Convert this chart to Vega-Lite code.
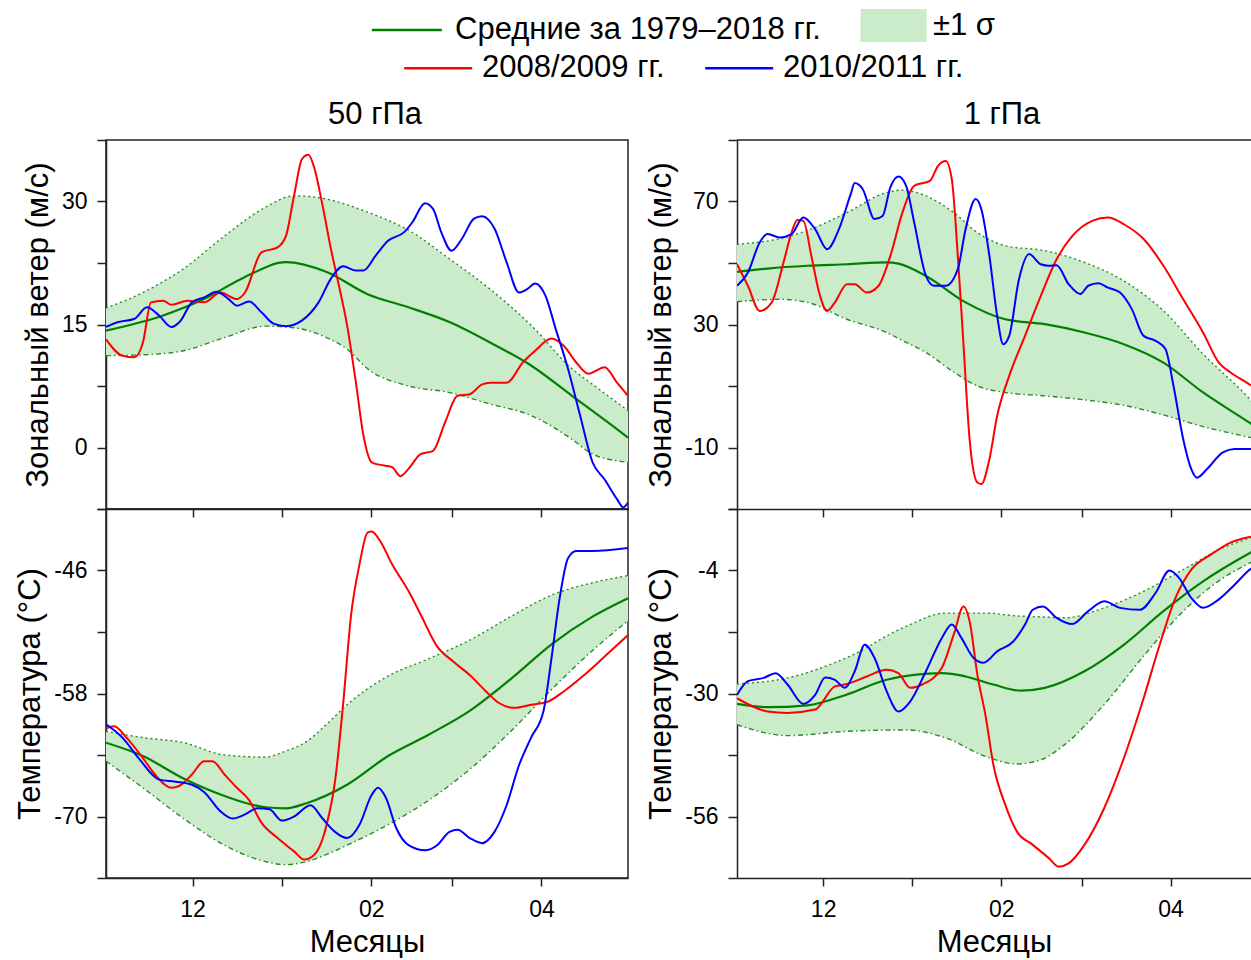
{
"$schema": "https://vega.github.io/schema/vega-lite/v6.json",
"padding": {"left": 14, "top": 10, "right": 0, "bottom": 0},
"config": {
  "font": "Liberation Sans",
  "view": {"stroke": null},
  "axis": {"domainColor": "#222", "domainWidth": 1.5, "tickColor": "#222", "tickWidth": 1.5, "tickSize": 9, "labelFontSize": 23, "labelColor": "#000", "labelFont": "Liberation Sans", "labelPadding": 10, "titleFontSize": 31, "titleFontWeight": "normal", "titleColor": "#000", "titleFont": "Liberation Sans", "titlePadding": 7, "grid": false, "labelOverlap": false, "labelBound": false, "labelFlush": false},
  "legend": {"labelFontSize": 31, "labelColor": "#000", "labelFont": "Liberation Sans", "padding": 0, "symbolOpacity": 1, "labelLimit": 700},
  "title": {"fontSize": 31, "fontWeight": "normal", "color": "#000", "font": "Liberation Sans", "anchor": "middle"}
},
"datasets": {
"band": [
{"p":"w50","b":"±1 σ","d":0,"lo":11.2,"hi":17.0},{"p":"w50","b":"±1 σ","d":12.8,"lo":11.3,"hi":18.9},{"p":"w50","b":"±1 σ","d":26.9,"lo":11.8,"hi":21.8},{"p":"w50","b":"±1 σ","d":41.1,"lo":13.4,"hi":25.8},{"p":"w50","b":"±1 σ","d":55.3,"lo":14.8,"hi":29.3},{"p":"w50","b":"±1 σ","d":65.2,"lo":14.6,"hi":30.7},{"p":"w50","b":"±1 σ","d":76.5,"lo":13.4,"hi":30.3},{"p":"w50","b":"±1 σ","d":83.6,"lo":12.0,"hi":29.6},{"p":"w50","b":"±1 σ","d":90.7,"lo":9.6,"hi":28.7},{"p":"w50","b":"±1 σ","d":104.9,"lo":7.5,"hi":26.5},{"p":"w50","b":"±1 σ","d":119.1,"lo":6.7,"hi":23.0},{"p":"w50","b":"±1 σ","d":133.2,"lo":5.3,"hi":19.3},{"p":"w50","b":"±1 σ","d":147.4,"lo":3.9,"hi":14.9},{"p":"w50","b":"±1 σ","d":161.6,"lo":1.0,"hi":9.6},{"p":"w50","b":"±1 σ","d":168.7,"lo":-0.8,"hi":7.7},{"p":"w50","b":"±1 σ","d":181,"lo":-1.8,"hi":4.5},
{"p":"t50","b":"±1 σ","d":0,"lo":-64.6,"hi":-61.7},{"p":"t50","b":"±1 σ","d":12.8,"lo":-67.2,"hi":-62.3},{"p":"t50","b":"±1 σ","d":26.9,"lo":-70.2,"hi":-62.8},{"p":"t50","b":"±1 σ","d":41.1,"lo":-72.8,"hi":-64.0},{"p":"t50","b":"±1 σ","d":55.3,"lo":-74.4,"hi":-64.2},{"p":"t50","b":"±1 σ","d":62.4,"lo":-74.7,"hi":-63.6},{"p":"t50","b":"±1 σ","d":69.5,"lo":-74.4,"hi":-62.7},{"p":"t50","b":"±1 σ","d":76.5,"lo":-73.7,"hi":-61.0},{"p":"t50","b":"±1 σ","d":83.6,"lo":-72.8,"hi":-59.1},{"p":"t50","b":"±1 σ","d":97.8,"lo":-70.8,"hi":-56.3},{"p":"t50","b":"±1 σ","d":112.0,"lo":-68.4,"hi":-54.6},{"p":"t50","b":"±1 σ","d":126.1,"lo":-65.4,"hi":-52.8},{"p":"t50","b":"±1 σ","d":140.3,"lo":-61.7,"hi":-50.5},{"p":"t50","b":"±1 σ","d":154.5,"lo":-57.6,"hi":-48.4},{"p":"t50","b":"±1 σ","d":168.7,"lo":-53.8,"hi":-47.2},{"p":"t50","b":"±1 σ","d":181,"lo":-50.9,"hi":-46.5},
{"p":"w1","b":"±1 σ","d":0,"lo":37.4,"hi":56.1},{"p":"w1","b":"±1 σ","d":14.8,"lo":38.2,"hi":57.9},{"p":"w1","b":"±1 σ","d":24.5,"lo":37.2,"hi":60.6},{"p":"w1","b":"±1 σ","d":38.3,"lo":31.7,"hi":66.4},{"p":"w1","b":"±1 σ","d":52.1,"lo":27.4,"hi":72.9},{"p":"w1","b":"±1 σ","d":57.6,"lo":24.8,"hi":73.7},{"p":"w1","b":"±1 σ","d":65.8,"lo":20.9,"hi":71.8},{"p":"w1","b":"±1 σ","d":75.5,"lo":14.5,"hi":66.4},{"p":"w1","b":"±1 σ","d":83.7,"lo":10.0,"hi":59.9},{"p":"w1","b":"±1 σ","d":93.4,"lo":7.9,"hi":55.6},{"p":"w1","b":"±1 σ","d":107.2,"lo":6.8,"hi":54.0},{"p":"w1","b":"±1 σ","d":121.0,"lo":5.5,"hi":50.2},{"p":"w1","b":"±1 σ","d":134.7,"lo":3.7,"hi":44.2},{"p":"w1","b":"±1 σ","d":148.5,"lo":0.6,"hi":34.5},{"p":"w1","b":"±1 σ","d":162.3,"lo":-3.2,"hi":20.4},{"p":"w1","b":"±1 σ","d":178.6,"lo":-6.7,"hi":5.7},{"p":"w1","b":"±1 σ","d":181,"lo":-7.2,"hi":3.2},
{"p":"t1","b":"±1 σ","d":0,"lo":-36.6,"hi":-28.0},{"p":"t1","b":"±1 σ","d":17.6,"lo":-38.9,"hi":-26.7},{"p":"t1","b":"±1 σ","d":38.3,"lo":-38.0,"hi":-22.4},{"p":"t1","b":"±1 σ","d":58.9,"lo":-37.7,"hi":-15.8},{"p":"t1","b":"±1 σ","d":72.7,"lo":-39.4,"hi":-13.0},{"p":"t1","b":"±1 σ","d":86.5,"lo":-43.3,"hi":-13.0},{"p":"t1","b":"±1 σ","d":97.5,"lo":-44.9,"hi":-13.6},{"p":"t1","b":"±1 σ","d":105.8,"lo":-44.0,"hi":-13.8},{"p":"t1","b":"±1 σ","d":114.1,"lo":-40.8,"hi":-14.0},{"p":"t1","b":"±1 σ","d":127.9,"lo":-32.3,"hi":-11.9},{"p":"t1","b":"±1 σ","d":141.6,"lo":-22.1,"hi":-8.4},{"p":"t1","b":"±1 σ","d":155.4,"lo":-12.6,"hi":-3.8},{"p":"t1","b":"±1 σ","d":169.2,"lo":-5.6,"hi":0.8},{"p":"t1","b":"±1 σ","d":178.6,"lo":-2.4,"hi":2.9},{"p":"t1","b":"±1 σ","d":181,"lo":-1.6,"hi":3.5}
],
"mean": [
{"p":"w50","s":"Средние за 1979–2018 гг.","d":0,"v":14.25},{"p":"w50","s":"Средние за 1979–2018 гг.","d":19.8,"v":16.1},{"p":"w50","s":"Средние за 1979–2018 гг.","d":34.0,"v":18.1},{"p":"w50","s":"Средние за 1979–2018 гг.","d":48.2,"v":20.8},{"p":"w50","s":"Средние за 1979–2018 гг.","d":62.4,"v":22.6},{"p":"w50","s":"Средние за 1979–2018 гг.","d":76.5,"v":21.4},{"p":"w50","s":"Средние за 1979–2018 гг.","d":90.7,"v":18.7},{"p":"w50","s":"Средние за 1979–2018 гг.","d":104.9,"v":17.1},{"p":"w50","s":"Средние за 1979–2018 гг.","d":119.1,"v":15.3},{"p":"w50","s":"Средние за 1979–2018 гг.","d":133.2,"v":12.8},{"p":"w50","s":"Средние за 1979–2018 гг.","d":147.4,"v":10.0},{"p":"w50","s":"Средние за 1979–2018 гг.","d":161.6,"v":6.3},{"p":"w50","s":"Средние за 1979–2018 гг.","d":175.8,"v":2.6},{"p":"w50","s":"Средние за 1979–2018 гг.","d":181,"v":1.2},
{"p":"t50","s":"Средние за 1979–2018 гг.","d":0,"v":-62.8},{"p":"t50","s":"Средние за 1979–2018 гг.","d":12.8,"v":-64.1},{"p":"t50","s":"Средние за 1979–2018 гг.","d":26.9,"v":-66.3},{"p":"t50","s":"Средние за 1979–2018 гг.","d":41.1,"v":-68.0},{"p":"t50","s":"Средние за 1979–2018 гг.","d":55.3,"v":-69.1},{"p":"t50","s":"Средние за 1979–2018 гг.","d":62.4,"v":-69.2},{"p":"t50","s":"Средние за 1979–2018 гг.","d":69.5,"v":-68.7},{"p":"t50","s":"Средние за 1979–2018 гг.","d":83.6,"v":-66.9},{"p":"t50","s":"Средние за 1979–2018 гг.","d":97.8,"v":-64.1},{"p":"t50","s":"Средние за 1979–2018 гг.","d":112.0,"v":-62.0},{"p":"t50","s":"Средние за 1979–2018 гг.","d":126.1,"v":-59.7},{"p":"t50","s":"Средние за 1979–2018 гг.","d":140.3,"v":-56.6},{"p":"t50","s":"Средние за 1979–2018 гг.","d":154.5,"v":-53.2},{"p":"t50","s":"Средние за 1979–2018 гг.","d":168.7,"v":-50.5},{"p":"t50","s":"Средние за 1979–2018 гг.","d":181,"v":-48.7},
{"p":"w1","s":"Средние за 1979–2018 гг.","d":0,"v":47.1},{"p":"w1","s":"Средние за 1979–2018 гг.","d":10.7,"v":48.2},{"p":"w1","s":"Средние за 1979–2018 гг.","d":24.5,"v":49.1},{"p":"w1","s":"Средние за 1979–2018 гг.","d":38.3,"v":49.6},{"p":"w1","s":"Средние за 1979–2018 гг.","d":52.1,"v":50.2},{"p":"w1","s":"Средние за 1979–2018 гг.","d":56.2,"v":49.8},{"p":"w1","s":"Средние за 1979–2018 гг.","d":65.8,"v":45.8},{"p":"w1","s":"Средние за 1979–2018 гг.","d":79.6,"v":37.2},{"p":"w1","s":"Средние за 1979–2018 гг.","d":93.4,"v":31.7},{"p":"w1","s":"Средние за 1979–2018 гг.","d":107.2,"v":30.1},{"p":"w1","s":"Средние за 1979–2018 гг.","d":121.0,"v":27.4},{"p":"w1","s":"Средние за 1979–2018 гг.","d":134.7,"v":23.6},{"p":"w1","s":"Средние за 1979–2018 гг.","d":148.5,"v":17.6},{"p":"w1","s":"Средние за 1979–2018 гг.","d":162.3,"v":7.9},{"p":"w1","s":"Средние за 1979–2018 гг.","d":178.6,"v":-2.0},{"p":"w1","s":"Средние за 1979–2018 гг.","d":181,"v":-3.5},
{"p":"t1","s":"Средние за 1979–2018 гг.","d":0,"v":-32.2},{"p":"t1","s":"Средние за 1979–2018 гг.","d":10.7,"v":-32.9},{"p":"t1","s":"Средние за 1979–2018 гг.","d":24.5,"v":-32.5},{"p":"t1","s":"Средние за 1979–2018 гг.","d":38.3,"v":-30.2},{"p":"t1","s":"Средние за 1979–2018 гг.","d":52.1,"v":-27.1},{"p":"t1","s":"Средние за 1979–2018 гг.","d":71.3,"v":-25.7},{"p":"t1","s":"Средние за 1979–2018 гг.","d":79.6,"v":-26.4},{"p":"t1","s":"Средние за 1979–2018 гг.","d":89.3,"v":-28.1},{"p":"t1","s":"Средние за 1979–2018 гг.","d":98.9,"v":-29.4},{"p":"t1","s":"Средние за 1979–2018 гг.","d":107.2,"v":-28.8},{"p":"t1","s":"Средние за 1979–2018 гг.","d":121.0,"v":-25.3},{"p":"t1","s":"Средние за 1979–2018 гг.","d":134.7,"v":-19.7},{"p":"t1","s":"Средние за 1979–2018 гг.","d":148.5,"v":-12.6},{"p":"t1","s":"Средние за 1979–2018 гг.","d":162.3,"v":-6.3},{"p":"t1","s":"Средние за 1979–2018 гг.","d":178.6,"v":-0.3},{"p":"t1","s":"Средние за 1979–2018 гг.","d":181,"v":0.5}
],
"yr": [
{"p":"w50","s":"2008/2009 гг.","d":0,"v":13.2},{"p":"w50","s":"2008/2009 гг.","d":5.7,"v":11.2},{"p":"w50","s":"2008/2009 гг.","d":9.9,"v":11.0},{"p":"w50","s":"2008/2009 гг.","d":12.8,"v":12.8},{"p":"w50","s":"2008/2009 гг.","d":15.6,"v":17.7},{"p":"w50","s":"2008/2009 гг.","d":19.8,"v":17.9},{"p":"w50","s":"2008/2009 гг.","d":22.7,"v":17.4},{"p":"w50","s":"2008/2009 гг.","d":28.3,"v":17.9},{"p":"w50","s":"2008/2009 гг.","d":34.0,"v":17.7},{"p":"w50","s":"2008/2009 гг.","d":39.7,"v":18.9},{"p":"w50","s":"2008/2009 гг.","d":45.4,"v":18.1},{"p":"w50","s":"2008/2009 гг.","d":48.2,"v":18.9},{"p":"w50","s":"2008/2009 гг.","d":53.9,"v":23.8},{"p":"w50","s":"2008/2009 гг.","d":59.5,"v":24.4},{"p":"w50","s":"2008/2009 гг.","d":62.4,"v":25.8},{"p":"w50","s":"2008/2009 гг.","d":65.2,"v":30.7},{"p":"w50","s":"2008/2009 гг.","d":68.0,"v":35.2},{"p":"w50","s":"2008/2009 гг.","d":70.2,"v":35.7},{"p":"w50","s":"2008/2009 гг.","d":72.3,"v":34.0},{"p":"w50","s":"2008/2009 гг.","d":75.1,"v":29.5},{"p":"w50","s":"2008/2009 гг.","d":78.0,"v":24.2},{"p":"w50","s":"2008/2009 гг.","d":80.8,"v":19.7},{"p":"w50","s":"2008/2009 гг.","d":83.6,"v":14.9},{"p":"w50","s":"2008/2009 гг.","d":86.5,"v":8.3},{"p":"w50","s":"2008/2009 гг.","d":89.3,"v":1.4},{"p":"w50","s":"2008/2009 гг.","d":92.1,"v":-1.8},{"p":"w50","s":"2008/2009 гг.","d":96.4,"v":-2.2},{"p":"w50","s":"2008/2009 гг.","d":99.2,"v":-2.4},{"p":"w50","s":"2008/2009 гг.","d":102.1,"v":-3.5},{"p":"w50","s":"2008/2009 гг.","d":104.9,"v":-2.6},{"p":"w50","s":"2008/2009 гг.","d":109.1,"v":-0.8},{"p":"w50","s":"2008/2009 гг.","d":113.4,"v":-0.4},{"p":"w50","s":"2008/2009 гг.","d":117.6,"v":3.1},{"p":"w50","s":"2008/2009 гг.","d":121.9,"v":6.3},{"p":"w50","s":"2008/2009 гг.","d":126.1,"v":6.5},{"p":"w50","s":"2008/2009 гг.","d":130.4,"v":7.7},{"p":"w50","s":"2008/2009 гг.","d":133.2,"v":7.9},{"p":"w50","s":"2008/2009 гг.","d":138.9,"v":7.9},{"p":"w50","s":"2008/2009 гг.","d":144.6,"v":10.4},{"p":"w50","s":"2008/2009 гг.","d":148.8,"v":11.8},{"p":"w50","s":"2008/2009 гг.","d":154.5,"v":13.3},{"p":"w50","s":"2008/2009 гг.","d":158.7,"v":12.4},{"p":"w50","s":"2008/2009 гг.","d":163.0,"v":10.4},{"p":"w50","s":"2008/2009 гг.","d":167.3,"v":9.0},{"p":"w50","s":"2008/2009 гг.","d":172.9,"v":9.8},{"p":"w50","s":"2008/2009 гг.","d":177.2,"v":7.9},{"p":"w50","s":"2008/2009 гг.","d":181,"v":6.3},
{"p":"w50","s":"2010/2011 гг.","d":0,"v":14.7},{"p":"w50","s":"2010/2011 гг.","d":4.3,"v":15.3},{"p":"w50","s":"2010/2011 гг.","d":9.9,"v":15.7},{"p":"w50","s":"2010/2011 гг.","d":14.2,"v":17.1},{"p":"w50","s":"2010/2011 гг.","d":18.4,"v":16.1},{"p":"w50","s":"2010/2011 гг.","d":22.7,"v":14.7},{"p":"w50","s":"2010/2011 гг.","d":25.5,"v":15.3},{"p":"w50","s":"2010/2011 гг.","d":29.8,"v":17.7},{"p":"w50","s":"2010/2011 гг.","d":34.0,"v":18.3},{"p":"w50","s":"2010/2011 гг.","d":38.3,"v":19.0},{"p":"w50","s":"2010/2011 гг.","d":42.5,"v":18.1},{"p":"w50","s":"2010/2011 гг.","d":45.4,"v":17.3},{"p":"w50","s":"2010/2011 гг.","d":49.6,"v":17.8},{"p":"w50","s":"2010/2011 гг.","d":53.9,"v":16.5},{"p":"w50","s":"2010/2011 гг.","d":58.1,"v":15.1},{"p":"w50","s":"2010/2011 гг.","d":62.4,"v":14.8},{"p":"w50","s":"2010/2011 гг.","d":68.0,"v":15.5},{"p":"w50","s":"2010/2011 гг.","d":73.7,"v":17.7},{"p":"w50","s":"2010/2011 гг.","d":78.0,"v":20.6},{"p":"w50","s":"2010/2011 гг.","d":82.2,"v":22.1},{"p":"w50","s":"2010/2011 гг.","d":86.5,"v":21.6},{"p":"w50","s":"2010/2011 гг.","d":89.3,"v":21.6},{"p":"w50","s":"2010/2011 гг.","d":93.5,"v":23.4},{"p":"w50","s":"2010/2011 гг.","d":97.8,"v":25.2},{"p":"w50","s":"2010/2011 гг.","d":103.5,"v":26.3},{"p":"w50","s":"2010/2011 гг.","d":106.3,"v":27.5},{"p":"w50","s":"2010/2011 гг.","d":110.6,"v":29.8},{"p":"w50","s":"2010/2011 гг.","d":113.4,"v":29.1},{"p":"w50","s":"2010/2011 гг.","d":116.2,"v":26.3},{"p":"w50","s":"2010/2011 гг.","d":119.8,"v":24.0},{"p":"w50","s":"2010/2011 гг.","d":123.3,"v":25.4},{"p":"w50","s":"2010/2011 гг.","d":127.6,"v":27.9},{"p":"w50","s":"2010/2011 гг.","d":130.4,"v":28.2},{"p":"w50","s":"2010/2011 гг.","d":134.7,"v":26.7},{"p":"w50","s":"2010/2011 гг.","d":138.9,"v":22.6},{"p":"w50","s":"2010/2011 гг.","d":143.2,"v":18.9},{"p":"w50","s":"2010/2011 гг.","d":146.0,"v":19.3},{"p":"w50","s":"2010/2011 гг.","d":148.8,"v":20.0},{"p":"w50","s":"2010/2011 гг.","d":152.4,"v":18.5},{"p":"w50","s":"2010/2011 гг.","d":155.9,"v":14.5},{"p":"w50","s":"2010/2011 гг.","d":160.2,"v":9.6},{"p":"w50","s":"2010/2011 гг.","d":164.4,"v":3.9},{"p":"w50","s":"2010/2011 гг.","d":168.7,"v":-1.8},{"p":"w50","s":"2010/2011 гг.","d":172.9,"v":-3.9},{"p":"w50","s":"2010/2011 гг.","d":177.2,"v":-6.3},{"p":"w50","s":"2010/2011 гг.","d":179.3,"v":-7.3},{"p":"w50","s":"2010/2011 гг.","d":181,"v":-6.7},
{"p":"t50","s":"2008/2009 гг.","d":0,"v":-61.4},{"p":"t50","s":"2008/2009 гг.","d":2.8,"v":-61.2},{"p":"t50","s":"2008/2009 гг.","d":7.1,"v":-62.3},{"p":"t50","s":"2008/2009 гг.","d":12.8,"v":-64.3},{"p":"t50","s":"2008/2009 гг.","d":17.0,"v":-65.9},{"p":"t50","s":"2008/2009 гг.","d":22.7,"v":-67.2},{"p":"t50","s":"2008/2009 гг.","d":25.5,"v":-67.0},{"p":"t50","s":"2008/2009 гг.","d":29.8,"v":-65.9},{"p":"t50","s":"2008/2009 гг.","d":34.0,"v":-64.6},{"p":"t50","s":"2008/2009 гг.","d":36.9,"v":-64.6},{"p":"t50","s":"2008/2009 гг.","d":41.1,"v":-65.9},{"p":"t50","s":"2008/2009 гг.","d":45.4,"v":-67.2},{"p":"t50","s":"2008/2009 гг.","d":49.6,"v":-68.4},{"p":"t50","s":"2008/2009 гг.","d":53.9,"v":-70.6},{"p":"t50","s":"2008/2009 гг.","d":59.5,"v":-72.1},{"p":"t50","s":"2008/2009 гг.","d":65.2,"v":-73.4},{"p":"t50","s":"2008/2009 гг.","d":68.7,"v":-74.2},{"p":"t50","s":"2008/2009 гг.","d":72.3,"v":-73.7},{"p":"t50","s":"2008/2009 гг.","d":76.5,"v":-70.8},{"p":"t50","s":"2008/2009 гг.","d":79.4,"v":-66.6},{"p":"t50","s":"2008/2009 гг.","d":82.2,"v":-59.1},{"p":"t50","s":"2008/2009 гг.","d":85.0,"v":-50.3},{"p":"t50","s":"2008/2009 гг.","d":87.9,"v":-45.4},{"p":"t50","s":"2008/2009 гг.","d":90.7,"v":-42.3},{"p":"t50","s":"2008/2009 гг.","d":92.1,"v":-42.2},{"p":"t50","s":"2008/2009 гг.","d":95.0,"v":-43.1},{"p":"t50","s":"2008/2009 гг.","d":99.2,"v":-45.4},{"p":"t50","s":"2008/2009 гг.","d":104.9,"v":-48.0},{"p":"t50","s":"2008/2009 гг.","d":109.1,"v":-50.3},{"p":"t50","s":"2008/2009 гг.","d":114.8,"v":-53.4},{"p":"t50","s":"2008/2009 гг.","d":120.5,"v":-54.9},{"p":"t50","s":"2008/2009 гг.","d":126.1,"v":-56.2},{"p":"t50","s":"2008/2009 гг.","d":131.8,"v":-57.8},{"p":"t50","s":"2008/2009 гг.","d":136.1,"v":-58.9},{"p":"t50","s":"2008/2009 гг.","d":141.7,"v":-59.4},{"p":"t50","s":"2008/2009 гг.","d":147.4,"v":-59.1},{"p":"t50","s":"2008/2009 гг.","d":153.1,"v":-58.8},{"p":"t50","s":"2008/2009 гг.","d":158.7,"v":-57.8},{"p":"t50","s":"2008/2009 гг.","d":165.8,"v":-56.2},{"p":"t50","s":"2008/2009 гг.","d":172.9,"v":-54.4},{"p":"t50","s":"2008/2009 гг.","d":181,"v":-52.3},
{"p":"t50","s":"2010/2011 гг.","d":0,"v":-61.0},{"p":"t50","s":"2010/2011 гг.","d":5.7,"v":-62.3},{"p":"t50","s":"2010/2011 гг.","d":11.3,"v":-64.3},{"p":"t50","s":"2010/2011 гг.","d":18.4,"v":-66.4},{"p":"t50","s":"2010/2011 гг.","d":24.1,"v":-66.6},{"p":"t50","s":"2010/2011 гг.","d":29.8,"v":-66.9},{"p":"t50","s":"2010/2011 гг.","d":34.0,"v":-67.6},{"p":"t50","s":"2010/2011 гг.","d":39.7,"v":-69.5},{"p":"t50","s":"2010/2011 гг.","d":43.9,"v":-70.2},{"p":"t50","s":"2010/2011 гг.","d":48.2,"v":-69.8},{"p":"t50","s":"2010/2011 гг.","d":52.4,"v":-69.2},{"p":"t50","s":"2010/2011 гг.","d":56.7,"v":-69.3},{"p":"t50","s":"2010/2011 гг.","d":60.9,"v":-70.4},{"p":"t50","s":"2010/2011 гг.","d":65.2,"v":-70.0},{"p":"t50","s":"2010/2011 гг.","d":70.9,"v":-68.9},{"p":"t50","s":"2010/2011 гг.","d":75.1,"v":-70.2},{"p":"t50","s":"2010/2011 гг.","d":79.4,"v":-71.5},{"p":"t50","s":"2010/2011 гг.","d":83.6,"v":-72.1},{"p":"t50","s":"2010/2011 гг.","d":87.9,"v":-70.8},{"p":"t50","s":"2010/2011 гг.","d":92.1,"v":-67.9},{"p":"t50","s":"2010/2011 гг.","d":94.3,"v":-67.2},{"p":"t50","s":"2010/2011 гг.","d":97.1,"v":-68.2},{"p":"t50","s":"2010/2011 гг.","d":100.6,"v":-71.1},{"p":"t50","s":"2010/2011 гг.","d":104.9,"v":-72.8},{"p":"t50","s":"2010/2011 гг.","d":110.6,"v":-73.3},{"p":"t50","s":"2010/2011 гг.","d":114.8,"v":-72.8},{"p":"t50","s":"2010/2011 гг.","d":119.1,"v":-71.5},{"p":"t50","s":"2010/2011 гг.","d":121.9,"v":-71.3},{"p":"t50","s":"2010/2011 гг.","d":126.1,"v":-72.1},{"p":"t50","s":"2010/2011 гг.","d":130.4,"v":-72.6},{"p":"t50","s":"2010/2011 гг.","d":134.7,"v":-71.5},{"p":"t50","s":"2010/2011 гг.","d":138.9,"v":-68.9},{"p":"t50","s":"2010/2011 гг.","d":143.2,"v":-65.0},{"p":"t50","s":"2010/2011 гг.","d":147.4,"v":-62.3},{"p":"t50","s":"2010/2011 гг.","d":151.7,"v":-59.7},{"p":"t50","s":"2010/2011 гг.","d":154.5,"v":-54.5},{"p":"t50","s":"2010/2011 гг.","d":157.3,"v":-48.7},{"p":"t50","s":"2010/2011 гг.","d":160.2,"v":-44.8},{"p":"t50","s":"2010/2011 гг.","d":163.0,"v":-44.1},{"p":"t50","s":"2010/2011 гг.","d":168.7,"v":-44.1},{"p":"t50","s":"2010/2011 гг.","d":181,"v":-43.8},
{"p":"w1","s":"2008/2009 гг.","d":0,"v":49.6},{"p":"w1","s":"2008/2009 гг.","d":3.8,"v":42.6},{"p":"w1","s":"2008/2009 гг.","d":7.9,"v":34.4},{"p":"w1","s":"2008/2009 гг.","d":12.1,"v":37.2},{"p":"w1","s":"2008/2009 гг.","d":16.2,"v":50.2},{"p":"w1","s":"2008/2009 гг.","d":19.0,"v":59.9},{"p":"w1","s":"2008/2009 гг.","d":21.0,"v":64.0},{"p":"w1","s":"2008/2009 гг.","d":23.1,"v":63.7},{"p":"w1","s":"2008/2009 гг.","d":25.9,"v":52.3},{"p":"w1","s":"2008/2009 гг.","d":28.6,"v":40.4},{"p":"w1","s":"2008/2009 гг.","d":31.4,"v":34.4},{"p":"w1","s":"2008/2009 гг.","d":34.1,"v":37.2},{"p":"w1","s":"2008/2009 гг.","d":38.3,"v":43.1},{"p":"w1","s":"2008/2009 гг.","d":41.0,"v":43.1},{"p":"w1","s":"2008/2009 гг.","d":45.2,"v":40.4},{"p":"w1","s":"2008/2009 гг.","d":49.3,"v":42.6},{"p":"w1","s":"2008/2009 гг.","d":53.4,"v":52.3},{"p":"w1","s":"2008/2009 гг.","d":57.6,"v":66.4},{"p":"w1","s":"2008/2009 гг.","d":61.7,"v":75.1},{"p":"w1","s":"2008/2009 гг.","d":67.2,"v":76.7},{"p":"w1","s":"2008/2009 гг.","d":70.0,"v":81.6},{"p":"w1","s":"2008/2009 гг.","d":72.7,"v":83.2},{"p":"w1","s":"2008/2009 гг.","d":74.8,"v":77.3},{"p":"w1","s":"2008/2009 гг.","d":76.9,"v":52.3},{"p":"w1","s":"2008/2009 гг.","d":78.9,"v":23.1},{"p":"w1","s":"2008/2009 гг.","d":81.0,"v":-7.3},{"p":"w1","s":"2008/2009 гг.","d":83.7,"v":-21.4},{"p":"w1","s":"2008/2009 гг.","d":85.1,"v":-21.9},{"p":"w1","s":"2008/2009 гг.","d":87.9,"v":-13.8},{"p":"w1","s":"2008/2009 гг.","d":90.6,"v":0.3},{"p":"w1","s":"2008/2009 гг.","d":94.8,"v":13.3},{"p":"w1","s":"2008/2009 гг.","d":100.3,"v":26.3},{"p":"w1","s":"2008/2009 гг.","d":105.8,"v":39.3},{"p":"w1","s":"2008/2009 гг.","d":111.3,"v":51.2},{"p":"w1","s":"2008/2009 гг.","d":116.8,"v":58.8},{"p":"w1","s":"2008/2009 гг.","d":123.7,"v":63.7},{"p":"w1","s":"2008/2009 гг.","d":129.2,"v":64.8},{"p":"w1","s":"2008/2009 гг.","d":134.7,"v":62.6},{"p":"w1","s":"2008/2009 гг.","d":141.6,"v":57.8},{"p":"w1","s":"2008/2009 гг.","d":148.5,"v":49.1},{"p":"w1","s":"2008/2009 гг.","d":155.4,"v":38.2},{"p":"w1","s":"2008/2009 гг.","d":162.3,"v":27.4},{"p":"w1","s":"2008/2009 гг.","d":167.8,"v":17.6},{"p":"w1","s":"2008/2009 гг.","d":171.9,"v":14.4},{"p":"w1","s":"2008/2009 гг.","d":177.5,"v":11.1},{"p":"w1","s":"2008/2009 гг.","d":181,"v":9.0},
{"p":"w1","s":"2010/2011 гг.","d":0,"v":42.6},{"p":"w1","s":"2010/2011 гг.","d":3.8,"v":46.9},{"p":"w1","s":"2010/2011 гг.","d":7.9,"v":56.7},{"p":"w1","s":"2010/2011 гг.","d":10.7,"v":59.4},{"p":"w1","s":"2010/2011 гг.","d":14.8,"v":58.3},{"p":"w1","s":"2010/2011 гг.","d":19.0,"v":59.4},{"p":"w1","s":"2010/2011 гг.","d":23.1,"v":64.8},{"p":"w1","s":"2010/2011 гг.","d":27.2,"v":61.0},{"p":"w1","s":"2010/2011 гг.","d":31.4,"v":54.5},{"p":"w1","s":"2010/2011 гг.","d":35.5,"v":61.0},{"p":"w1","s":"2010/2011 гг.","d":39.6,"v":72.4},{"p":"w1","s":"2010/2011 гг.","d":41.0,"v":76.0},{"p":"w1","s":"2010/2011 гг.","d":43.8,"v":74.0},{"p":"w1","s":"2010/2011 гг.","d":47.9,"v":64.3},{"p":"w1","s":"2010/2011 гг.","d":50.7,"v":65.3},{"p":"w1","s":"2010/2011 гг.","d":53.4,"v":74.6},{"p":"w1","s":"2010/2011 гг.","d":56.2,"v":78.1},{"p":"w1","s":"2010/2011 гг.","d":58.9,"v":75.1},{"p":"w1","s":"2010/2011 гг.","d":61.7,"v":63.2},{"p":"w1","s":"2010/2011 гг.","d":65.8,"v":45.8},{"p":"w1","s":"2010/2011 гг.","d":68.6,"v":42.6},{"p":"w1","s":"2010/2011 гг.","d":72.7,"v":42.6},{"p":"w1","s":"2010/2011 гг.","d":76.9,"v":48.0},{"p":"w1","s":"2010/2011 гг.","d":79.6,"v":61.0},{"p":"w1","s":"2010/2011 гг.","d":83.1,"v":70.8},{"p":"w1","s":"2010/2011 гг.","d":85.1,"v":67.5},{"p":"w1","s":"2010/2011 гг.","d":87.9,"v":52.3},{"p":"w1","s":"2010/2011 гг.","d":90.6,"v":32.8},{"p":"w1","s":"2010/2011 гг.","d":92.7,"v":23.6},{"p":"w1","s":"2010/2011 гг.","d":94.8,"v":26.3},{"p":"w1","s":"2010/2011 гг.","d":98.2,"v":44.7},{"p":"w1","s":"2010/2011 гг.","d":101.7,"v":52.9},{"p":"w1","s":"2010/2011 гг.","d":105.8,"v":49.6},{"p":"w1","s":"2010/2011 гг.","d":108.6,"v":49.1},{"p":"w1","s":"2010/2011 гг.","d":111.3,"v":49.3},{"p":"w1","s":"2010/2011 гг.","d":115.5,"v":43.1},{"p":"w1","s":"2010/2011 гг.","d":119.6,"v":39.9},{"p":"w1","s":"2010/2011 гг.","d":122.3,"v":42.6},{"p":"w1","s":"2010/2011 гг.","d":125.8,"v":43.4},{"p":"w1","s":"2010/2011 гг.","d":129.2,"v":42.0},{"p":"w1","s":"2010/2011 гг.","d":133.4,"v":40.4},{"p":"w1","s":"2010/2011 гг.","d":137.5,"v":35.0},{"p":"w1","s":"2010/2011 гг.","d":141.6,"v":26.3},{"p":"w1","s":"2010/2011 гг.","d":145.8,"v":24.7},{"p":"w1","s":"2010/2011 гг.","d":149.2,"v":22.0},{"p":"w1","s":"2010/2011 гг.","d":152.0,"v":10.1},{"p":"w1","s":"2010/2011 гг.","d":155.4,"v":-7.3},{"p":"w1","s":"2010/2011 гг.","d":158.2,"v":-17.0},{"p":"w1","s":"2010/2011 гг.","d":160.2,"v":-19.8},{"p":"w1","s":"2010/2011 гг.","d":163.7,"v":-17.0},{"p":"w1","s":"2010/2011 гг.","d":169.2,"v":-11.6},{"p":"w1","s":"2010/2011 гг.","d":173.3,"v":-10.5},{"p":"w1","s":"2010/2011 гг.","d":178.6,"v":-10.5},{"p":"w1","s":"2010/2011 гг.","d":181,"v":-10.5},
{"p":"t1","s":"2008/2009 гг.","d":0,"v":-31.0},{"p":"t1","s":"2008/2009 гг.","d":10.7,"v":-33.8},{"p":"t1","s":"2008/2009 гг.","d":17.6,"v":-34.1},{"p":"t1","s":"2008/2009 гг.","d":27.2,"v":-33.4},{"p":"t1","s":"2008/2009 гг.","d":34.1,"v":-28.5},{"p":"t1","s":"2008/2009 гг.","d":38.3,"v":-28.0},{"p":"t1","s":"2008/2009 гг.","d":45.2,"v":-26.4},{"p":"t1","s":"2008/2009 гг.","d":52.1,"v":-25.0},{"p":"t1","s":"2008/2009 гг.","d":56.2,"v":-25.7},{"p":"t1","s":"2008/2009 гг.","d":60.3,"v":-28.8},{"p":"t1","s":"2008/2009 гг.","d":64.5,"v":-28.1},{"p":"t1","s":"2008/2009 гг.","d":71.3,"v":-24.6},{"p":"t1","s":"2008/2009 гг.","d":75.5,"v":-17.5},{"p":"t1","s":"2008/2009 гг.","d":78.9,"v":-11.6},{"p":"t1","s":"2008/2009 гг.","d":81.0,"v":-14.7},{"p":"t1","s":"2008/2009 гг.","d":83.7,"v":-26.0},{"p":"t1","s":"2008/2009 гг.","d":86.5,"v":-34.5},{"p":"t1","s":"2008/2009 гг.","d":89.3,"v":-45.1},{"p":"t1","s":"2008/2009 гг.","d":93.4,"v":-53.5},{"p":"t1","s":"2008/2009 гг.","d":97.5,"v":-59.2},{"p":"t1","s":"2008/2009 гг.","d":103.0,"v":-62.0},{"p":"t1","s":"2008/2009 гг.","d":108.6,"v":-64.8},{"p":"t1","s":"2008/2009 гг.","d":112.0,"v":-66.6},{"p":"t1","s":"2008/2009 гг.","d":115.5,"v":-65.9},{"p":"t1","s":"2008/2009 гг.","d":121.0,"v":-62.0},{"p":"t1","s":"2008/2009 гг.","d":127.9,"v":-54.2},{"p":"t1","s":"2008/2009 гг.","d":134.7,"v":-43.7},{"p":"t1","s":"2008/2009 гг.","d":141.6,"v":-31.0},{"p":"t1","s":"2008/2009 гг.","d":147.2,"v":-19.7},{"p":"t1","s":"2008/2009 гг.","d":152.7,"v":-9.8},{"p":"t1","s":"2008/2009 гг.","d":158.2,"v":-3.8},{"p":"t1","s":"2008/2009 гг.","d":165.1,"v":-0.6},{"p":"t1","s":"2008/2009 гг.","d":171.9,"v":1.9},{"p":"t1","s":"2008/2009 гг.","d":178.6,"v":3.1},{"p":"t1","s":"2008/2009 гг.","d":181,"v":3.4},
{"p":"t1","s":"2010/2011 гг.","d":0,"v":-30.3},{"p":"t1","s":"2010/2011 гг.","d":3.8,"v":-27.4},{"p":"t1","s":"2010/2011 гг.","d":9.3,"v":-26.7},{"p":"t1","s":"2010/2011 гг.","d":13.5,"v":-25.7},{"p":"t1","s":"2010/2011 гг.","d":17.6,"v":-28.1},{"p":"t1","s":"2010/2011 гг.","d":23.1,"v":-32.2},{"p":"t1","s":"2010/2011 гг.","d":27.2,"v":-30.3},{"p":"t1","s":"2010/2011 гг.","d":30.7,"v":-26.6},{"p":"t1","s":"2010/2011 гг.","d":34.1,"v":-27.1},{"p":"t1","s":"2010/2011 гг.","d":37.6,"v":-28.8},{"p":"t1","s":"2010/2011 гг.","d":41.0,"v":-25.3},{"p":"t1","s":"2010/2011 гг.","d":44.5,"v":-19.7},{"p":"t1","s":"2010/2011 гг.","d":47.9,"v":-22.5},{"p":"t1","s":"2010/2011 гг.","d":52.1,"v":-29.5},{"p":"t1","s":"2010/2011 гг.","d":56.2,"v":-33.8},{"p":"t1","s":"2010/2011 гг.","d":60.3,"v":-31.7},{"p":"t1","s":"2010/2011 гг.","d":65.8,"v":-25.3},{"p":"t1","s":"2010/2011 гг.","d":71.3,"v":-18.3},{"p":"t1","s":"2010/2011 гг.","d":74.8,"v":-15.4},{"p":"t1","s":"2010/2011 гг.","d":78.2,"v":-18.3},{"p":"t1","s":"2010/2011 гг.","d":82.4,"v":-22.5},{"p":"t1","s":"2010/2011 гг.","d":85.8,"v":-23.5},{"p":"t1","s":"2010/2011 гг.","d":90.6,"v":-21.1},{"p":"t1","s":"2010/2011 гг.","d":96.2,"v":-19.0},{"p":"t1","s":"2010/2011 гг.","d":100.3,"v":-15.4},{"p":"t1","s":"2010/2011 гг.","d":103.0,"v":-12.3},{"p":"t1","s":"2010/2011 гг.","d":106.5,"v":-11.6},{"p":"t1","s":"2010/2011 гг.","d":111.3,"v":-14.0},{"p":"t1","s":"2010/2011 гг.","d":116.8,"v":-15.3},{"p":"t1","s":"2010/2011 гг.","d":122.3,"v":-12.6},{"p":"t1","s":"2010/2011 гг.","d":127.9,"v":-10.5},{"p":"t1","s":"2010/2011 гг.","d":133.4,"v":-11.9},{"p":"t1","s":"2010/2011 гг.","d":140.3,"v":-12.3},{"p":"t1","s":"2010/2011 гг.","d":145.8,"v":-8.7},{"p":"t1","s":"2010/2011 гг.","d":150.6,"v":-4.0},{"p":"t1","s":"2010/2011 гг.","d":154.0,"v":-5.6},{"p":"t1","s":"2010/2011 гг.","d":158.2,"v":-9.8},{"p":"t1","s":"2010/2011 гг.","d":162.3,"v":-11.9},{"p":"t1","s":"2010/2011 гг.","d":167.8,"v":-10.1},{"p":"t1","s":"2010/2011 гг.","d":173.3,"v":-7.0},{"p":"t1","s":"2010/2011 гг.","d":178.6,"v":-3.8},{"p":"t1","s":"2010/2011 гг.","d":181,"v":-2.8}
]
},
"hconcat": [
 {"vconcat": [
  {"width": 522, "height": 369,
   "view": {"stroke": "#222", "strokeWidth": 1.5},
   "title": {"text": "50 гПа", "offset": -2, "dx": 8},
   "encoding": {"x": {"field": "d", "type": "quantitative", "scale": {"domain": [0, 181], "nice": false, "zero": false}, "axis": {"values": [30, 61, 92, 120, 151], "labels": false, "title": null, "tickSize": 8}}},
   "layer": [
    {"data": {"name": "band"}, "transform": [{"filter": "datum.p === 'w50'"}], "mark": {"type": "area", "interpolate": "monotone", "clip": true, "opacity": 1},
     "encoding": {"y": {"field": "lo", "type": "quantitative", "title": "Зональный ветер (м/с)", "scale": {"domain": [-7.5, 37.5], "nice": false, "zero": false},
        "axis": {"values": [-7.5, 0, 7.5, 15, 22.5, 30, 37.5], "labelExpr": "datum.value % 15 === 0 ? toString(datum.value) : ''", "encode": {"ticks": {"update": {"x2": {"signal": "datum.value % 15 === 0 ? -9 : -4.5"}}}}}},
      "y2": {"field": "hi"},
      "fill": {"field": "b", "type": "nominal", "scale": {"range": ["#cbeccb"]}, "legend": {"title": null, "orient": "none", "legendX": 750, "legendY": -130, "symbolType": "M-1,-1.5H5V1.5H-1Z", "symbolSize": 484, "symbolStrokeWidth": 0, "labelOffset": 46}}}},
    {"data": {"name": "band"}, "transform": [{"filter": "datum.p === 'w50'"}], "mark": {"type": "line", "interpolate": "monotone", "clip": true, "stroke": "#2a8a2a", "strokeWidth": 1.4, "strokeDash": [5, 3, 1.5, 3]},
     "encoding": {"y": {"field": "lo", "type": "quantitative", "title": "Зональный ветер (м/с)", "scale": {"domain": [-7.5, 37.5], "nice": false, "zero": false}}}},
    {"data": {"name": "band"}, "transform": [{"filter": "datum.p === 'w50'"}], "mark": {"type": "line", "interpolate": "monotone", "clip": true, "stroke": "#2a8a2a", "strokeWidth": 1.4, "strokeDash": [2, 3]},
     "encoding": {"y": {"field": "hi", "type": "quantitative", "title": "Зональный ветер (м/с)", "scale": {"domain": [-7.5, 37.5], "nice": false, "zero": false}}}},
    {"data": {"name": "mean"}, "transform": [{"filter": "datum.p === 'w50'"}], "mark": {"type": "line", "interpolate": "monotone", "clip": true, "strokeWidth": 2.2},
     "encoding": {"y": {"field": "v", "type": "quantitative", "title": "Зональный ветер (м/с)", "scale": {"domain": [-7.5, 37.5], "nice": false, "zero": false}},
      "stroke": {"field": "s", "type": "nominal", "scale": {"range": ["#008000"]}, "legend": {"title": null, "orient": "none", "legendX": 262, "legendY": -125.5, "symbolType": "M-1,0H5", "symbolSize": 544.4, "symbolStrokeWidth": 2.5, "labelOffset": 56}}}},
    {"data": {"name": "yr"}, "transform": [{"filter": "datum.p === 'w50'"}], "mark": {"type": "line", "interpolate": "monotone", "clip": true, "strokeWidth": 2},
     "encoding": {"y": {"field": "v", "type": "quantitative", "title": "Зональный ветер (м/с)", "scale": {"domain": [-7.5, 37.5], "nice": false, "zero": false}},
      "color": {"field": "s", "type": "nominal", "scale": {"domain": ["2008/2009 гг.", "2010/2011 гг."], "range": ["#ff0000", "#0000ff"]}, "legend": {"title": null, "orient": "none", "legendX": 294, "legendY": -87.5, "direction": "horizontal", "symbolType": "M-1,0H5", "symbolSize": 513.8, "symbolStrokeWidth": 2.5, "labelOffset": 51, "columnPadding": 35}}}}
   ]},
  {"width": 522, "height": 369,
   "view": {"stroke": "#222", "strokeWidth": 1.5},
   "encoding": {"x": {"field": "d", "type": "quantitative", "scale": {"domain": [0, 181], "nice": false, "zero": false}, "axis": {"values": [30, 61, 92, 120, 151], "labelExpr": "datum.value == 30 ? '12' : datum.value == 92 ? '02' : datum.value == 151 ? '04' : ''", "title": "Месяцы", "tickSize": 8, "labelPadding": 12, "titlePadding": 6}}},
   "layer": [
    {"data": {"name": "band"}, "transform": [{"filter": "datum.p === 't50'"}], "mark": {"type": "area", "interpolate": "monotone", "clip": true, "opacity": 1},
     "encoding": {"y": {"field": "lo", "type": "quantitative", "title": "Температура (°C)", "scale": {"domain": [-76, -40], "nice": false, "zero": false},
        "axis": {"values": [-76, -70, -64, -58, -52, -46, -40], "labelExpr": "(datum.value + 46) % 12 === 0 ? toString(datum.value) : ''", "encode": {"ticks": {"update": {"x2": {"signal": "(datum.value + 46) % 12 === 0 ? -9 : -4.5"}}}}}},
      "y2": {"field": "hi"},
      "fill": {"field": "b", "type": "nominal", "scale": {"range": ["#cbeccb"]}, "legend": {"title": null, "orient": "none", "legendX": 750, "legendY": -130, "symbolType": "M-1,-1.5H5V1.5H-1Z", "symbolSize": 484, "symbolStrokeWidth": 0, "labelOffset": 46}}}},
    {"data": {"name": "band"}, "transform": [{"filter": "datum.p === 't50'"}], "mark": {"type": "line", "interpolate": "monotone", "clip": true, "stroke": "#2a8a2a", "strokeWidth": 1.4, "strokeDash": [5, 3, 1.5, 3]},
     "encoding": {"y": {"field": "lo", "type": "quantitative", "title": "Температура (°C)", "scale": {"domain": [-76, -40], "nice": false, "zero": false}}}},
    {"data": {"name": "band"}, "transform": [{"filter": "datum.p === 't50'"}], "mark": {"type": "line", "interpolate": "monotone", "clip": true, "stroke": "#2a8a2a", "strokeWidth": 1.4, "strokeDash": [2, 3]},
     "encoding": {"y": {"field": "hi", "type": "quantitative", "title": "Температура (°C)", "scale": {"domain": [-76, -40], "nice": false, "zero": false}}}},
    {"data": {"name": "mean"}, "transform": [{"filter": "datum.p === 't50'"}], "mark": {"type": "line", "interpolate": "monotone", "clip": true, "strokeWidth": 2.2},
     "encoding": {"y": {"field": "v", "type": "quantitative", "title": "Температура (°C)", "scale": {"domain": [-76, -40], "nice": false, "zero": false}},
      "stroke": {"field": "s", "type": "nominal", "scale": {"range": ["#008000"]}, "legend": {"title": null, "orient": "none", "legendX": 262, "legendY": -125.5, "symbolType": "M-1,0H5", "symbolSize": 544.4, "symbolStrokeWidth": 2.5, "labelOffset": 56}}}},
    {"data": {"name": "yr"}, "transform": [{"filter": "datum.p === 't50'"}], "mark": {"type": "line", "interpolate": "monotone", "clip": true, "strokeWidth": 2},
     "encoding": {"y": {"field": "v", "type": "quantitative", "title": "Температура (°C)", "scale": {"domain": [-76, -40], "nice": false, "zero": false}},
      "color": {"field": "s", "type": "nominal", "scale": {"domain": ["2008/2009 гг.", "2010/2011 гг."], "range": ["#ff0000", "#0000ff"]}, "legend": {"title": null, "orient": "none", "legendX": 294, "legendY": -87.5, "direction": "horizontal", "symbolType": "M-1,0H5", "symbolSize": 513.8, "symbolStrokeWidth": 2.5, "labelOffset": 51, "columnPadding": 35}}}}
   ]}
 ], "spacing": 0, "bounds": "flush"},
 {"vconcat": [
  {"width": 514, "height": 369,
   "view": {"stroke": "#222", "strokeWidth": 1.5, "strokeDash": [514, 3000]},
   "title": {"text": "1 гПа", "offset": -2, "dx": 8},
   "encoding": {"x": {"field": "d", "type": "quantitative", "scale": {"domain": [0, 179], "nice": false, "zero": false}, "axis": {"values": [30, 61, 92, 120, 151], "labels": false, "title": null, "tickSize": 8}}},
   "layer": [
    {"data": {"name": "band"}, "transform": [{"filter": "datum.p === 'w1'"}], "mark": {"type": "area", "interpolate": "monotone", "clip": true, "opacity": 1},
     "encoding": {"y": {"field": "lo", "type": "quantitative", "title": "Зональный ветер (м/с)", "scale": {"domain": [-30, 90], "nice": false, "zero": false},
        "axis": {"values": [-30, -10, 10, 30, 50, 70, 90], "labelExpr": "(datum.value + 10) % 40 === 0 ? toString(datum.value) : ''", "encode": {"ticks": {"update": {"x2": {"signal": "(datum.value + 10) % 40 === 0 ? -9 : -4.5"}}}}}},
      "y2": {"field": "hi"},
      "fill": {"field": "b", "type": "nominal", "scale": {"range": ["#cbeccb"]}, "legend": {"title": null, "orient": "none", "legendX": 750, "legendY": -130, "symbolType": "M-1,-1.5H5V1.5H-1Z", "symbolSize": 484, "symbolStrokeWidth": 0, "labelOffset": 46}}}},
    {"data": {"name": "band"}, "transform": [{"filter": "datum.p === 'w1'"}], "mark": {"type": "line", "interpolate": "monotone", "clip": true, "stroke": "#2a8a2a", "strokeWidth": 1.4, "strokeDash": [5, 3, 1.5, 3]},
     "encoding": {"y": {"field": "lo", "type": "quantitative", "title": "Зональный ветер (м/с)", "scale": {"domain": [-30, 90], "nice": false, "zero": false}}}},
    {"data": {"name": "band"}, "transform": [{"filter": "datum.p === 'w1'"}], "mark": {"type": "line", "interpolate": "monotone", "clip": true, "stroke": "#2a8a2a", "strokeWidth": 1.4, "strokeDash": [2, 3]},
     "encoding": {"y": {"field": "hi", "type": "quantitative", "title": "Зональный ветер (м/с)", "scale": {"domain": [-30, 90], "nice": false, "zero": false}}}},
    {"data": {"name": "mean"}, "transform": [{"filter": "datum.p === 'w1'"}], "mark": {"type": "line", "interpolate": "monotone", "clip": true, "strokeWidth": 2.2},
     "encoding": {"y": {"field": "v", "type": "quantitative", "title": "Зональный ветер (м/с)", "scale": {"domain": [-30, 90], "nice": false, "zero": false}},
      "stroke": {"field": "s", "type": "nominal", "scale": {"range": ["#008000"]}, "legend": {"title": null, "orient": "none", "legendX": 262, "legendY": -125.5, "symbolType": "M-1,0H5", "symbolSize": 544.4, "symbolStrokeWidth": 2.5, "labelOffset": 56}}}},
    {"data": {"name": "yr"}, "transform": [{"filter": "datum.p === 'w1'"}], "mark": {"type": "line", "interpolate": "monotone", "clip": true, "strokeWidth": 2},
     "encoding": {"y": {"field": "v", "type": "quantitative", "title": "Зональный ветер (м/с)", "scale": {"domain": [-30, 90], "nice": false, "zero": false}},
      "color": {"field": "s", "type": "nominal", "scale": {"domain": ["2008/2009 гг.", "2010/2011 гг."], "range": ["#ff0000", "#0000ff"]}, "legend": {"title": null, "orient": "none", "legendX": 294, "legendY": -87.5, "direction": "horizontal", "symbolType": "M-1,0H5", "symbolSize": 513.8, "symbolStrokeWidth": 2.5, "labelOffset": 51, "columnPadding": 35}}}}
   ]},
  {"width": 514, "height": 369,
   "encoding": {"x": {"field": "d", "type": "quantitative", "scale": {"domain": [0, 179], "nice": false, "zero": false}, "axis": {"values": [30, 61, 92, 120, 151], "labelExpr": "datum.value == 30 ? '12' : datum.value == 92 ? '02' : datum.value == 151 ? '04' : ''", "title": "Месяцы", "tickSize": 8, "labelPadding": 12, "titlePadding": 6}}},
   "layer": [
    {"data": {"name": "band"}, "transform": [{"filter": "datum.p === 't1'"}], "mark": {"type": "area", "interpolate": "monotone", "clip": true, "opacity": 1},
     "encoding": {"y": {"field": "lo", "type": "quantitative", "title": "Температура (°C)", "scale": {"domain": [-69, 9], "nice": false, "zero": false},
        "axis": {"values": [-69, -56, -43, -30, -17, -4, 9], "labelExpr": "(datum.value + 4) % 26 === 0 ? toString(datum.value) : ''", "encode": {"ticks": {"update": {"x2": {"signal": "(datum.value + 4) % 26 === 0 ? -9 : -4.5"}}}}}},
      "y2": {"field": "hi"},
      "fill": {"field": "b", "type": "nominal", "scale": {"range": ["#cbeccb"]}, "legend": {"title": null, "orient": "none", "legendX": 750, "legendY": -130, "symbolType": "M-1,-1.5H5V1.5H-1Z", "symbolSize": 484, "symbolStrokeWidth": 0, "labelOffset": 46}}}},
    {"data": {"name": "band"}, "transform": [{"filter": "datum.p === 't1'"}], "mark": {"type": "line", "interpolate": "monotone", "clip": true, "stroke": "#2a8a2a", "strokeWidth": 1.4, "strokeDash": [5, 3, 1.5, 3]},
     "encoding": {"y": {"field": "lo", "type": "quantitative", "title": "Температура (°C)", "scale": {"domain": [-69, 9], "nice": false, "zero": false}}}},
    {"data": {"name": "band"}, "transform": [{"filter": "datum.p === 't1'"}], "mark": {"type": "line", "interpolate": "monotone", "clip": true, "stroke": "#2a8a2a", "strokeWidth": 1.4, "strokeDash": [2, 3]},
     "encoding": {"y": {"field": "hi", "type": "quantitative", "title": "Температура (°C)", "scale": {"domain": [-69, 9], "nice": false, "zero": false}}}},
    {"data": {"name": "mean"}, "transform": [{"filter": "datum.p === 't1'"}], "mark": {"type": "line", "interpolate": "monotone", "clip": true, "strokeWidth": 2.2},
     "encoding": {"y": {"field": "v", "type": "quantitative", "title": "Температура (°C)", "scale": {"domain": [-69, 9], "nice": false, "zero": false}},
      "stroke": {"field": "s", "type": "nominal", "scale": {"range": ["#008000"]}, "legend": {"title": null, "orient": "none", "legendX": 262, "legendY": -125.5, "symbolType": "M-1,0H5", "symbolSize": 544.4, "symbolStrokeWidth": 2.5, "labelOffset": 56}}}},
    {"data": {"name": "yr"}, "transform": [{"filter": "datum.p === 't1'"}], "mark": {"type": "line", "interpolate": "monotone", "clip": true, "strokeWidth": 2},
     "encoding": {"y": {"field": "v", "type": "quantitative", "title": "Температура (°C)", "scale": {"domain": [-69, 9], "nice": false, "zero": false}},
      "color": {"field": "s", "type": "nominal", "scale": {"domain": ["2008/2009 гг.", "2010/2011 гг."], "range": ["#ff0000", "#0000ff"]}, "legend": {"title": null, "orient": "none", "legendX": 294, "legendY": -87.5, "direction": "horizontal", "symbolType": "M-1,0H5", "symbolSize": 513.8, "symbolStrokeWidth": 2.5, "labelOffset": 51, "columnPadding": 35}}}}
   ]}
 ], "spacing": 0, "bounds": "flush"}
],
"spacing": 16
}
